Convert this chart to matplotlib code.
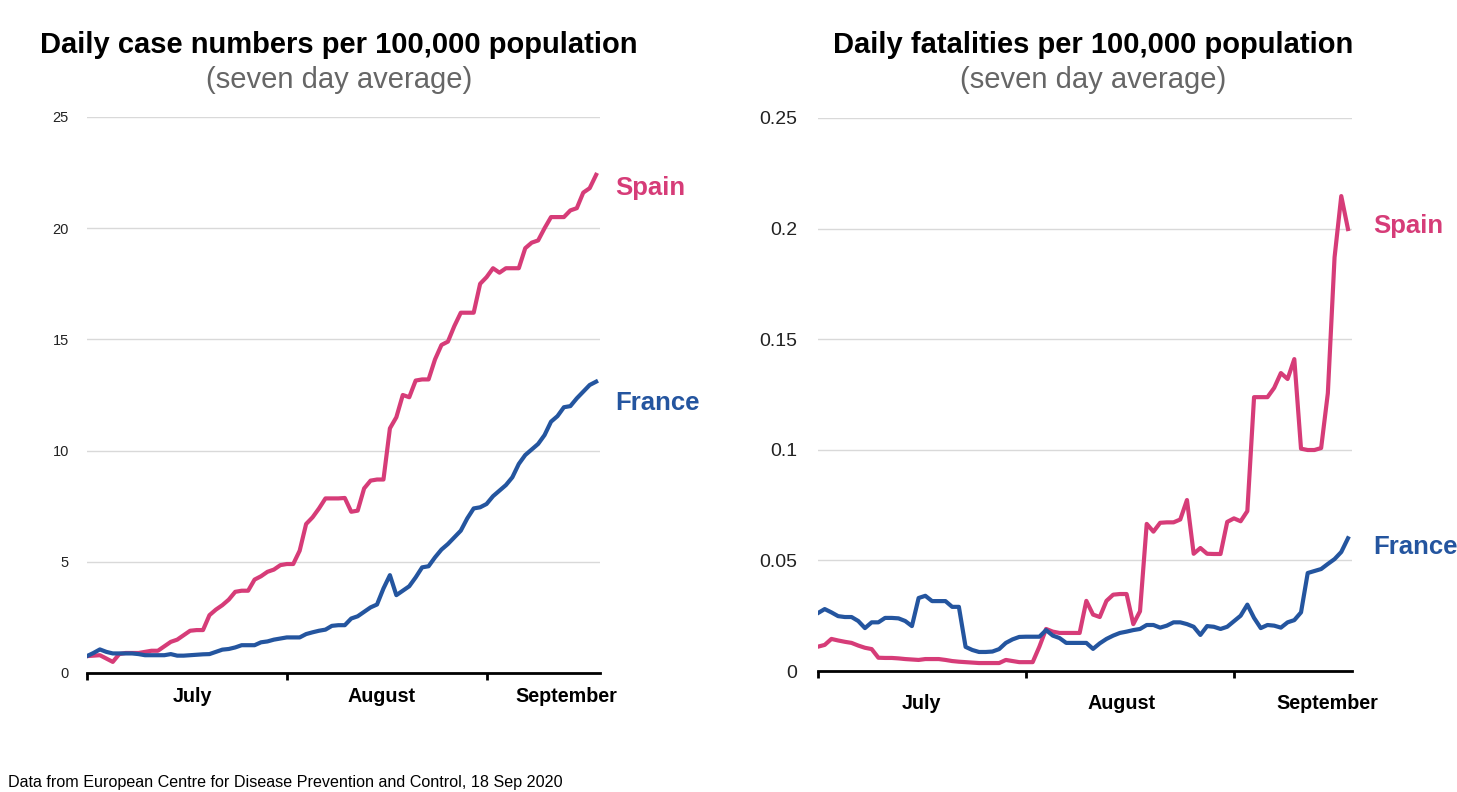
import matplotlib
matplotlib.use("Agg")
import matplotlib.pyplot as plt

plt.rcParams['font.family'] = ['Liberation Sans', 'DejaVu Sans']

# days since 1 July 2020 (day 0) up to 18 Sep
days = list(range(80))

spain_cases = [0.76, 0.78, 0.8, 0.65, 0.5, 0.85, 0.9, 0.9, 0.9, 0.95,
               1.0, 1.0, 1.2, 1.4, 1.5, 1.7, 1.9, 1.93, 1.93, 2.6,
               2.85, 3.05, 3.3, 3.65, 3.7, 3.7, 4.2, 4.35, 4.55, 4.65,
               4.85, 4.9, 4.9, 5.5, 6.7, 7.0, 7.4, 7.85, 7.85, 7.85,
               7.87, 7.25, 7.3, 8.3, 8.65, 8.7, 8.7, 11.0, 11.5, 12.5,
               12.4, 13.15, 13.2, 13.2, 14.1, 14.75, 14.9, 15.6, 16.2, 16.2,
               16.2, 17.5, 17.8, 18.2, 18.0, 18.2, 18.2, 18.2, 19.1, 19.35,
               19.45, 20.0, 20.5, 20.5, 20.5, 20.8, 20.9, 21.6, 21.8, 22.4]

france_cases = [0.76, 0.9, 1.06, 0.95, 0.88, 0.88, 0.88, 0.88, 0.85, 0.8,
                0.8, 0.8, 0.8, 0.85, 0.78, 0.78, 0.8, 0.82, 0.84, 0.85,
                0.95, 1.05, 1.08, 1.15, 1.25, 1.25, 1.25, 1.38, 1.42, 1.5,
                1.55, 1.6, 1.6, 1.6, 1.75, 1.83, 1.9, 1.95, 2.12, 2.15,
                2.15, 2.45, 2.55, 2.75, 2.95, 3.08, 3.8, 4.4, 3.5, 3.7,
                3.9, 4.3, 4.75, 4.8, 5.2, 5.55, 5.8, 6.1, 6.4, 6.95,
                7.4, 7.45, 7.6, 7.95, 8.2, 8.45, 8.8, 9.4, 9.8, 10.05,
                10.3, 10.7, 11.3, 11.55, 11.95, 12.0, 12.35, 12.65, 12.95, 13.1]

spain_deaths = [0.011, 0.0118, 0.0145, 0.0138, 0.0132, 0.0127, 0.0115, 0.0105, 0.0099, 0.006,
                0.0059, 0.0059, 0.0057, 0.0054, 0.0052, 0.005, 0.0054, 0.0054, 0.0054, 0.005,
                0.0045, 0.0042, 0.004, 0.0038, 0.0036, 0.0036, 0.0036, 0.0036, 0.005, 0.0045,
                0.004, 0.004, 0.004, 0.011, 0.019, 0.0178, 0.0172, 0.0172, 0.0172, 0.0172,
                0.0317, 0.0255, 0.0244, 0.0317, 0.0345, 0.0348, 0.0348, 0.0212, 0.027, 0.0665,
                0.063, 0.067, 0.0672, 0.0672, 0.0685, 0.0773, 0.053, 0.0556, 0.053, 0.0529,
                0.0529, 0.0674, 0.069, 0.0677, 0.0723, 0.1238, 0.1238, 0.1238, 0.128, 0.1347,
                0.132, 0.141, 0.1005, 0.0999, 0.0999, 0.1008, 0.1256, 0.187, 0.2147, 0.1998]

france_deaths = [0.0262, 0.028, 0.0265, 0.0248, 0.0244, 0.0244, 0.0226, 0.0194, 0.022, 0.022,
                 0.024, 0.024, 0.0238, 0.0226, 0.0203, 0.033, 0.034, 0.0316, 0.0316, 0.0316,
                 0.029, 0.029, 0.0109, 0.0095, 0.0086, 0.0086, 0.0088, 0.0099, 0.0127, 0.0143,
                 0.0154, 0.0155, 0.0155, 0.0155, 0.0185, 0.016, 0.0149, 0.0127, 0.0127, 0.0127,
                 0.0127, 0.01, 0.0125, 0.0145, 0.016, 0.0172, 0.0178, 0.0185, 0.019, 0.0208,
                 0.0208, 0.0196, 0.0205, 0.022, 0.022, 0.0212, 0.02, 0.0163, 0.0203, 0.02,
                 0.019, 0.02, 0.0225, 0.025, 0.03, 0.024, 0.0194, 0.0208, 0.0205, 0.0196,
                 0.022, 0.023, 0.0265, 0.0443, 0.0452, 0.0461, 0.0484, 0.0506, 0.0538, 0.06]

month_starts = [0, 31, 62]
month_names = ["July", "August", "September"]
left_label_pos = [16.3, 45.7, 74.3]
right_label_pos = [15.4, 45.3, 75.9]

pink = "#d63c78"
blue = "#24559f"
W, H = 1457, 792

fig = plt.figure(figsize=(W / 100, H / 100), dpi=100)


def px_axes(x0, y0, x1, y1):
    return fig.add_axes([x0 / W, 1 - y1 / H, (x1 - x0) / W, (y1 - y0) / H])


def style(ax, ymax, yticks, ylabels, label_pos, ysize, ypad, xpad):
    ax.set_xlim(0, 79.6)
    ax.set_ylim(0, ymax)
    for s in ["left", "right", "top"]:
        ax.spines[s].set_visible(False)
    ax.spines["bottom"].set_linewidth(2)
    ax.spines["bottom"].set_color("black")
    ax.set_yticks(yticks, ylabels)
    ax.tick_params(axis="y", length=0, labelsize=ysize, pad=ypad, labelcolor="#222222")
    ax.yaxis.grid(True, color="#d9d9d9", linewidth=1)
    ax.set_axisbelow(True)
    ax.set_xticks(month_starts, ["", "", ""])
    ax.tick_params(axis="x", which="major", direction="out", length=5, width=2, color="black")
    ax.set_xticks(label_pos, month_names, minor=True)
    ax.tick_params(axis="x", which="minor", length=0, pad=xpad, labelsize=14.2)
    for t in ax.get_xticklabels(minor=True):
        t.set_fontweight("bold")


ax1 = px_axes(87, 117, 600, 673)
ax1.plot(days, spain_cases, color=pink, linewidth=3, solid_joinstyle="round", zorder=3)
ax1.plot(days, france_cases, color=blue, linewidth=3, solid_joinstyle="round", zorder=3)
style(ax1, 25, [0, 5, 10, 15, 20, 25], ["0", "5", "10", "15", "20", "25"],
      left_label_pos, 10.5, 13, 10)

ax2 = px_axes(818, 118, 1352, 671)
ax2.plot(days, spain_deaths, color=pink, linewidth=3, solid_joinstyle="round", zorder=3)
ax2.plot(days, france_deaths, color=blue, linewidth=3, solid_joinstyle="round", zorder=3)
style(ax2, 0.25, [0, 0.05, 0.1, 0.15, 0.2, 0.25], ["0", "0.05", "0.1", "0.15", "0.2", "0.25"],
      right_label_pos, 14, 15, 16.5)


def ftext(x, y, s, **kw):
    fig.text(x / W, 1 - y / H, s, **kw)


ftext(339, 45, "Daily case numbers per 100,000 population", fontsize=21, fontweight="bold",
      ha="center", va="center")
ftext(339, 80, "(seven day average)", fontsize=21, color="#666666", ha="center", va="center")
ftext(1093, 45, "Daily fatalities per 100,000 population", fontsize=21, fontweight="bold",
      ha="center", va="center")
ftext(1093, 80, "(seven day average)", fontsize=21, color="#666666", ha="center", va="center")

ftext(615, 188, "Spain", fontsize=18.5, fontweight="bold", color=pink, va="center")
ftext(615, 403, "France", fontsize=18.5, fontweight="bold", color=blue, va="center")
ftext(1373, 226, "Spain", fontsize=18.5, fontweight="bold", color=pink, va="center")
ftext(1373, 547, "France", fontsize=18.5, fontweight="bold", color=blue, va="center")

ftext(8, 783, "Data from European Centre for Disease Prevention and Control, 18 Sep 2020",
      fontsize=11.6, va="center")

fig.savefig("out.png", dpi=100)
